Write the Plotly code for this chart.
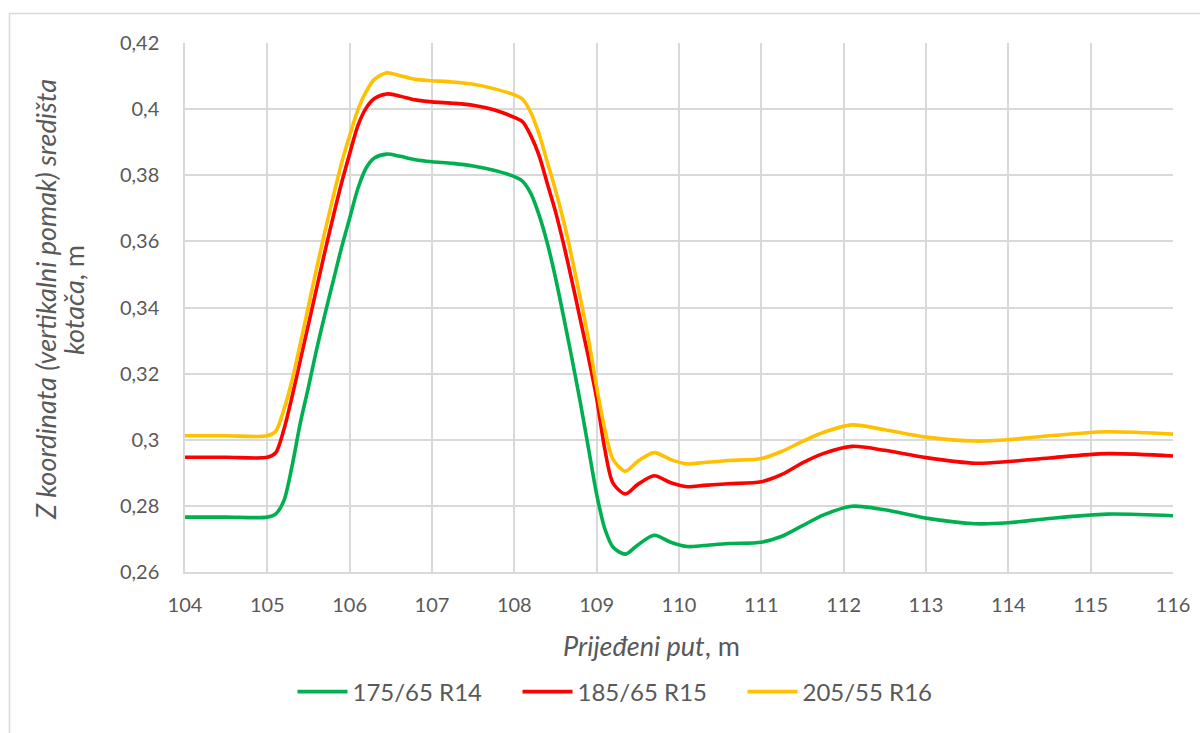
import plotly.graph_objects as go

# ---------------- data ----------------
x_put = [104, 104.5, 105, 105.1, 105.2, 105.3, 105.4, 105.5, 105.6, 105.7, 105.8, 105.9,
         106, 106.1, 106.2, 106.3, 106.45, 106.6, 106.8, 107, 107.25, 107.5, 107.75, 108,
         108.1, 108.2, 108.3, 108.4, 108.5, 108.6, 108.7, 108.8, 108.9, 109, 109.1, 109.2,
         109.35, 109.5, 109.7, 109.9, 110.1, 110.3, 110.6, 111, 111.25, 111.5, 111.75,
         112.1, 112.5, 113, 113.6, 114, 114.5, 115.2, 116]

z_175_65_R14 = [0.2766, 0.2766, 0.2766, 0.2775, 0.2815, 0.2920, 0.3050, 0.3160, 0.3275, 0.3380, 0.3480, 0.3580,
                0.3670, 0.3760, 0.3822, 0.3852, 0.3864, 0.3858, 0.3847, 0.3841, 0.3836, 0.3828, 0.3815, 0.3796,
                0.3782, 0.3745, 0.3680, 0.3595, 0.3490, 0.3370, 0.3245, 0.3115, 0.2975, 0.2835, 0.2730, 0.2675,
                0.2654, 0.2682, 0.2711, 0.2690, 0.2677, 0.2680, 0.2686, 0.2690, 0.2708, 0.2740, 0.2772,
                0.2799, 0.2788, 0.2763, 0.2746, 0.2749, 0.2762, 0.2775, 0.2770]

z_185_65_R15 = [0.2947, 0.2947, 0.2947, 0.2960, 0.3030, 0.3130, 0.3240, 0.3350, 0.3460, 0.3570, 0.3675, 0.3775,
                0.3865, 0.3950, 0.4003, 0.4032, 0.4046, 0.4040, 0.4028, 0.4022, 0.4018, 0.4012, 0.3998, 0.3975,
                0.3962, 0.3920, 0.3860, 0.3775, 0.3690, 0.3590, 0.3480, 0.3365, 0.3250, 0.3125, 0.2970, 0.2868,
                0.2836, 0.2865, 0.2891, 0.2870, 0.2858, 0.2862, 0.2867, 0.2873, 0.2895, 0.2930, 0.2958,
                0.2980, 0.2968, 0.2946, 0.2929, 0.2934, 0.2945, 0.2958, 0.2951]

z_205_55_R16 = [0.3012, 0.3012, 0.3012, 0.3025, 0.3090, 0.3180, 0.3290, 0.3405, 0.3520, 0.3630, 0.3735, 0.3835,
                0.3920, 0.3998, 0.4053, 0.4090, 0.4110, 0.4102, 0.4090, 0.4086, 0.4082, 0.4075, 0.4062, 0.4043,
                0.4030, 0.3990, 0.3925, 0.3840, 0.3755, 0.3660, 0.3550, 0.3430, 0.3305, 0.3160, 0.3030, 0.2940,
                0.2905, 0.2935, 0.2961, 0.2940, 0.2927, 0.2931, 0.2937, 0.2943, 0.2965, 0.2995, 0.3022,
                0.3045, 0.3030, 0.3008, 0.2996, 0.3000, 0.3012, 0.3024, 0.3017]

series_names = ["175/65 R14", "185/65 R15", "205/55 R16"]
series_colors = ["#00B050", "#FF0000", "#FFC000"]

x_tickvals = [104, 105, 106, 107, 108, 109, 110, 111, 112, 113, 114, 115, 116]
x_ticktext = ["104", "105", "106", "107", "108", "109", "110", "111", "112", "113", "114", "115", "116"]
y_tickvals = [0.26, 0.28, 0.30, 0.32, 0.34, 0.36, 0.38, 0.40, 0.42]
y_ticktext = ["0,26", "0,28", "0,3", "0,32", "0,34", "0,36", "0,38", "0,4", "0,42"]

x_title = "<i>Prijeđeni put</i>, m"
y_title_line1 = "<i>Z koordinata (vertikalni pomak) središta</i>"
y_title_line2 = "<i>kotača</i>, m"

# ---------------- figure ----------------
FONT = "Lato"
TXT = "#595959"
GRID = "#D9D9D9"

W, H = 1200, 733
L, R, T, B = 185, 27, 43, 161
pw, ph = W - L - R, H - T - B


def px_to_paper_x(px):
    return (px - L) / pw


def px_to_paper_y(py):
    return (H - B - py) / ph


fig = go.Figure()
for name, col, ys in zip(series_names, series_colors, [z_175_65_R14, z_185_65_R15, z_205_55_R16]):
    fig.add_trace(go.Scatter(
        x=x_put, y=ys, name=name, mode="lines",
        line=dict(color=col, width=3.6, shape="spline", smoothing=0.8),
        hoverinfo="skip",
    ))

fig.update_layout(
    width=W, height=H,
    margin=dict(l=L, r=R, t=T, b=B, autoexpand=False),
    paper_bgcolor="white", plot_bgcolor="white",
    font=dict(family=FONT, size=20, color=TXT),
    showlegend=True,
    legend=dict(
        orientation="h", x=px_to_paper_x(630), xanchor="center",
        y=px_to_paper_y(692), yanchor="middle",
        font=dict(family=FONT, size=24, color=TXT),
        itemwidth=50, entrywidth=160, tracegroupgap=0, bgcolor="rgba(0,0,0,0)",
    ),
    xaxis=dict(
        range=[104, 116], tickmode="array", tickvals=x_tickvals, ticktext=x_ticktext,
        showgrid=True, gridcolor=GRID, gridwidth=1.5,
        showline=True, linecolor=GRID, linewidth=1.5,
        zeroline=False, ticks="", ticklabelstandoff=14,
        tickfont=dict(family=FONT, size=20, color=TXT),
    ),
    yaxis=dict(
        range=[0.26, 0.42], tickmode="array", tickvals=y_tickvals, ticktext=y_ticktext,
        showgrid=True, gridcolor=GRID, gridwidth=1.5,
        showline=True, linecolor=GRID, linewidth=1.5,
        zeroline=False, ticks="", ticklabelstandoff=20,
        tickfont=dict(family=FONT, size=20, color=TXT),
    ),
    annotations=[
        dict(text=x_title, xref="paper", yref="paper",
             x=px_to_paper_x(651), y=px_to_paper_y(645),
             xanchor="center", yanchor="middle", showarrow=False,
             font=dict(family=FONT, size=27, color=TXT)),
        dict(text=y_title_line1, xref="paper", yref="paper",
             x=px_to_paper_x(45), y=px_to_paper_y(300),
             xanchor="center", yanchor="middle", showarrow=False, textangle=-90,
             font=dict(family=FONT, size=27, color=TXT)),
        dict(text=y_title_line2, xref="paper", yref="paper",
             x=px_to_paper_x(73), y=px_to_paper_y(300),
             xanchor="center", yanchor="middle", showarrow=False, textangle=-90,
             font=dict(family=FONT, size=27, color=TXT)),
    ],
    shapes=[
        dict(type="rect", xref="paper", yref="paper",
             x0=px_to_paper_x(9.5), x1=px_to_paper_x(1210),
             y0=px_to_paper_y(745), y1=px_to_paper_y(13.5),
             line=dict(color=GRID, width=1.5), fillcolor="rgba(0,0,0,0)", layer="below"),
    ],
)

fig.write_html("out.html",
               config={"displayModeBar": False},
               post_script="document.body.style.margin='0';document.body.style.overflow='hidden';")
